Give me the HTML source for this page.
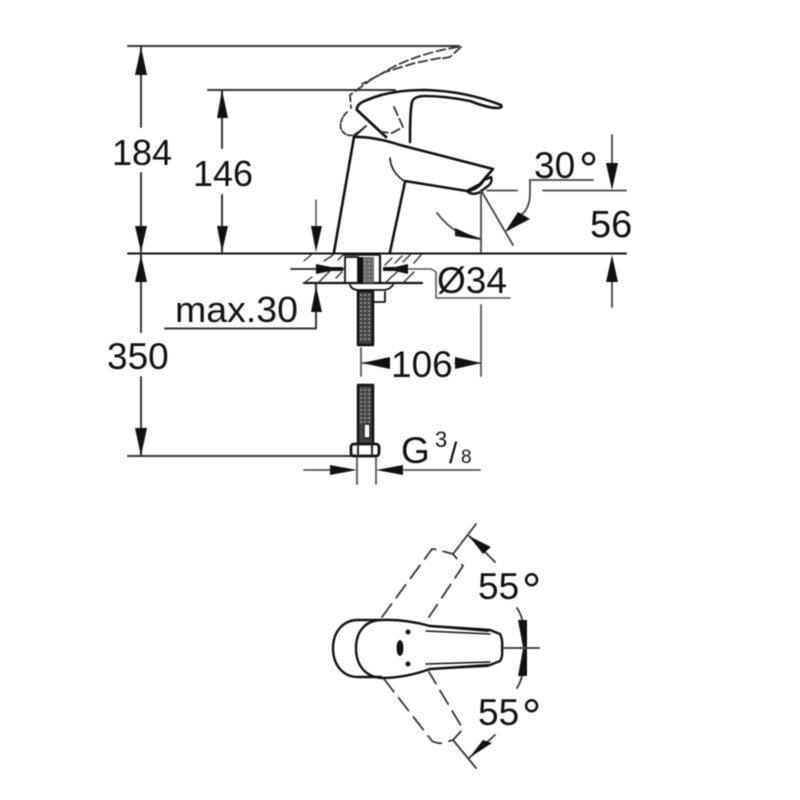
<!DOCTYPE html>
<html><head><meta charset="utf-8"><style>
html,body{margin:0;padding:0;background:#fff;width:800px;height:800px;overflow:hidden}
svg{display:block;filter:blur(.45px)}
text{font-family:"Liberation Sans",sans-serif;fill:#111}
</style></head><body>
<svg width="800" height="800" viewBox="0 0 800 800" fill="none" stroke="#222" stroke-width="1.6" stroke-linejoin="round" stroke-linecap="round">
<!-- extension lines -->
<g stroke="#333" stroke-width="2">
<path d="M128 46H459"/>
<path d="M208 90H395"/>
<path d="M128 253.500H626" stroke="#111"/>
<path d="M128 456H352"/>
<path d="M141 47V127M141 173V252M141 254V332M141 377V456"/>
<path d="M222 91V148M222 195V252"/>
<path d="M165 328.500H316V284"/>
</g>
<g fill="#111" stroke="none">
<path d="M141 47L147 75H135Z"/><path d="M141 252L147 226H135Z"/><path d="M141 255L147 282H135Z"/><path d="M141 456L147 428H135Z"/>
<path d="M222 90L228 118H217Z"/><path d="M222 252L228 226H217Z"/>
<path d="M316 252L322 226H311Z"/><path d="M316 286L322 312H311Z"/>
</g>
<path d="M316 200V226" stroke="#555"/>
<!-- faucet -->
<g stroke="#111" stroke-width="2.600">
<path d="M334 252L354 137"/>
<path d="M390 252L405 182"/>
<path d="M354 137Q372 136 400 145L493 169L480 184L467 191L405 181"/>
<path d="M390 158Q391 172 404 181" stroke-width="1.600"/>
<path d="M467 191Q478 190 484 180L491 177Q493 182 488 186L480 192Q472 196 467 191Z" stroke-width="2.400"/>
<path d="M357 110L386 137" stroke-width="2.800"/>
<path d="M357 110Q356 104 367 100Q390 90 425 90Q465 91 501 105Q503 108 497 108Q488 108 470 101Q445 96 425 96Q414 96 412 102Q410 110 410 142" stroke-width="2.600"/>
<path d="M354 137L366 126" stroke-width="1.800"/>
</g>
<g stroke="#333" stroke-width="1.800" stroke-dasharray="9 4">
<path d="M461 47L450 57L440 59"/>
<path d="M458 47Q425 52 395 66L372 79L350 95L351 108"/>
<path d="M440 58L415 63L385 72L362 84"/>
<path d="M394 107L403 127L392 133L382 132"/>
<path d="M347 112Q339 120 341 129Q345 137 354 135L365 127" stroke-dasharray="5 2"/>
</g>
<!-- spout dims -->
<g stroke="#444" stroke-width="1.800">
<path d="M481 190V252"/>
<path d="M482 192L513 245"/>
<path d="M487 190.500H517"/>
<path d="M543 190.500H626"/>
<path d="M612 135V165M612 277V307"/>
<path d="M530 180H593"/>
<path d="M530 180V192Q530 208 522 214L508 230"/>
<path d="M437 213Q447 226 458 232L481 239"/>
</g>
<g fill="#111" stroke="none">
<path d="M612 190L606 163H618Z"/><path d="M612 255L606 282H618Z"/>
<path d="M505 232L518 212L530 219Z"/>
<path d="M481 240L455 228L455 236Z"/>
</g>
<!-- counter top -->
<g stroke="#111" stroke-width="2.200">
<path d="M304 283H422"/>
<path d="M344 255H380" stroke-width="1.500"/>
<rect x="345" y="257" width="13" height="26" stroke-width="1.800"/>
<path d="M380 256V283"/>
<path d="M350 285Q352 290 358 290H385Q390 289 393 285" stroke-width="1.800"/>
<path d="M374 302H385V292" stroke-width="1.800"/>
</g>
<g stroke="#333" stroke-width="1.400">
<path d="M304 261L311 255M304 283L312 277M324 261L333 255M318 283L330 271M338 260L343 255M336 278L342 272"/>
<path d="M385 283L397 272M403 262L410 255M414 263L421 255M395 263L402 256M403 283L414 272M385 265L392 258"/>
</g>
<path d="M291 269H318M330 269H345M385 269H395" stroke="#222" stroke-width="1.800"/>
<path d="M408 269H431L436 272V298H510" stroke="#555" stroke-width="1.600"/>
<g fill="#111" stroke="none">
<path d="M316 264L331 267H343V271H331L316 274Z"/>
<path d="M408 264L395 267H383V271H395L408 274Z"/>
</g>
<!-- threads -->
<g>
<rect x="358" y="257" width="5" height="26" fill="#111" stroke="none"/>
<rect x="363" y="257" width="11" height="26" fill="#666" stroke="none"/>
<rect x="358" y="291" width="15" height="54" fill="#444" stroke="#111" stroke-width="2.500"/>
<rect x="358" y="385" width="15" height="60" fill="#444" stroke="#111" stroke-width="2.500"/>
<path d="M364 260H373M364 264H373M364 268H373M364 272H373M364 276H373M364 280H373M360 295H372M360 299H372M360 303H372M360 307H372M360 311H372M360 315H372M360 319H372M360 323H372M360 327H372M360 331H372M360 335H372M360 339H372M360 390H372M360 394H372M360 398H372M360 402H372M360 406H372M360 410H372M360 414H372M360 418H372M360 422H372" stroke="#999" stroke-width="1.800" stroke-dasharray="2 2" stroke-linecap="butt"/>
<rect x="364" y="424" width="6" height="14" fill="#fff" stroke="#222" stroke-width="1.500"/>
<rect x="351" y="444" width="28" height="12" rx="3" fill="#fff" stroke="#111" stroke-width="2.800"/>
<path d="M358 444V456M372 444V456" stroke-width="2"/>
</g>
<!-- 106 dim -->
<g stroke="#555" stroke-width="1.800">
<path d="M361 348V376"/>
<path d="M481 305V376"/>
<path d="M362 363H388"/><path d="M455 363H480"/>
<path d="M357 458V484M376 458V484"/>
<path d="M304 470H335M404 470H480"/>
</g>
<g fill="#111" stroke="none">
<path d="M362 363L390 357V369Z"/><path d="M481 363L455 357V369Z"/>
<path d="M357 470L330 465V475Z"/><path d="M376 470L403 465V475Z"/>
</g>
<!-- top view -->
<g stroke="#111" stroke-width="2.400">
<path d="M381 620H358C343 620 333 632 333 648C333 665 343 677 358 677H381"/>
<path d="M430 626Q405 619 382 620C365 620 356 632 356 648C356 665 365 677 382 678Q405 678 430 669L490 665L500 661Q503 657 502 648Q503 640 500 634L490 630L430 626Z"/>
<path d="M430 626L488 631M430 669L488 666" stroke-width="2"/>
<path d="M426 631L490 634M426 664L490 662" stroke-width="1.400"/>
</g>
<g fill="#111" stroke="none">
<ellipse cx="400" cy="648" rx="3.500" ry="8"/>
<circle cx="408" cy="632" r="2.500"/><circle cx="408" cy="664" r="2.500"/>
</g>
<g stroke="#333" stroke-width="1.800" stroke-dasharray="16 8">
<path d="M382 617L432 549Q438 549 442 551L453 554L463 566L429 617"/>
<path d="M384 679L432 741Q438 744 443 743L453 740L463 729L429 672"/>
</g>
<g stroke="#333" stroke-width="1.800">
<path d="M453 554L476 524M453 740L476 768"/>
<path d="M469 536L495 562M469 758L495 735"/>
<path d="M502 648H539"/>
<path d="M517 608Q522 615 523 625M517 688Q522 680 523 670"/>
</g>
<g fill="#111" stroke="none">
<path d="M469 536L491 547L483 554Z"/>
<path d="M469 758L492 743L483 740Z"/>
<path d="M518 620L527 620V647H523Z"/>
<path d="M518 676L527 676V649H523Z"/>
</g>
<!-- text -->
<g stroke="none">
<text x="112" y="165" font-size="36">184</text>
<text x="193" y="186" font-size="36">146</text>
<text x="107" y="369" font-size="37">350</text>
<text x="175" y="322" font-size="36" textLength="123" lengthAdjust="spacingAndGlyphs">max.30</text>
<text x="391" y="377" font-size="37">106</text>
<text x="437" y="293" font-size="37">Ø34</text>
<text x="590" y="237" font-size="38">56</text>
<text x="534" y="178" font-size="37">30</text>
<text x="579" y="186" font-size="48">°</text>
<text x="401" y="463" font-size="37">G</text>
<text x="435" y="447" font-size="22">3</text>
<text x="449" y="463" font-size="30">/</text>
<text x="461" y="463" font-size="19">8</text>
<text x="478" y="599" font-size="37">55</text>
<text x="522" y="607" font-size="48">°</text>
<text x="478" y="725" font-size="37">55</text>
<text x="522" y="733" font-size="48">°</text>
</g>
</svg>
</body></html>
